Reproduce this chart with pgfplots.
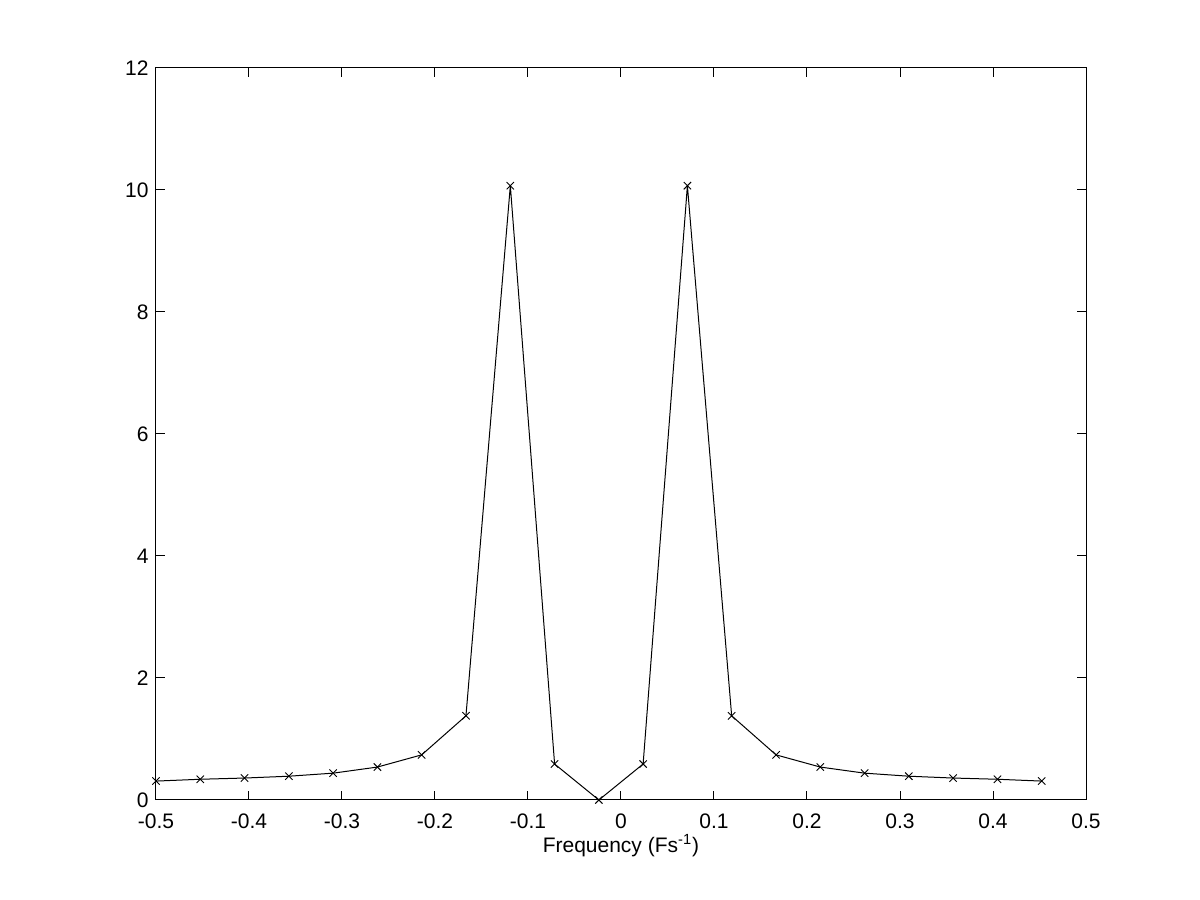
\documentclass[border=0pt]{standalone}
\usepackage{fontspec}
\setmainfont{Liberation Sans}
\usepackage{pgfplots}
\pgfplotsset{compat=1.18}
\begin{document}
\fontsize{10.5}{12.5}\selectfont
\begin{tikzpicture}
\begin{axis}[%
name=ax,
at={(0,0)}, anchor=south west,
width=465pt,
height=366pt,
scale only axis,
xmin=-0.5, xmax=0.5,
ymin=0, ymax=12,
xtick={-0.5,-0.4,...,0.5},
ytick={0,2,...,12},
tick align=inside,
major tick length=4.5pt,
xtick pos=both, ytick pos=both,
xticklabel pos=lower, yticklabel pos=left,
axis line style={line width=0.5pt},
tick style={line width=0.5pt,black},
/pgf/number format/assume math mode=true,
/pgf/number format/fixed,
/pgf/number format/precision=1,
xticklabel style={yshift=-3pt},
xlabel={Frequency (Fs\textsuperscript{-1})},
xlabel style={yshift=4pt},
]
\addplot[black, line width=0.5pt, mark=x, mark size=2.6pt, mark options={line width=0.45pt}]
  table[row sep=crcr]{
-0.5000	0.31\\
-0.4524	0.34\\
-0.4048	0.36\\
-0.3571	0.39\\
-0.3095	0.44\\
-0.2619	0.54\\
-0.2143	0.74\\
-0.1667	1.38\\
-0.1190	10.07\\
-0.0714	0.59\\
-0.0238	0.00\\
0.0238	0.59\\
0.0714	10.07\\
0.1190	1.38\\
0.1667	0.74\\
0.2143	0.54\\
0.2619	0.44\\
0.3095	0.39\\
0.3571	0.36\\
0.4048	0.34\\
0.4524	0.31\\
};
\end{axis}
\useasboundingbox (-78pt,-50pt) rectangle (522pt,400pt);
\end{tikzpicture}
\end{document}
